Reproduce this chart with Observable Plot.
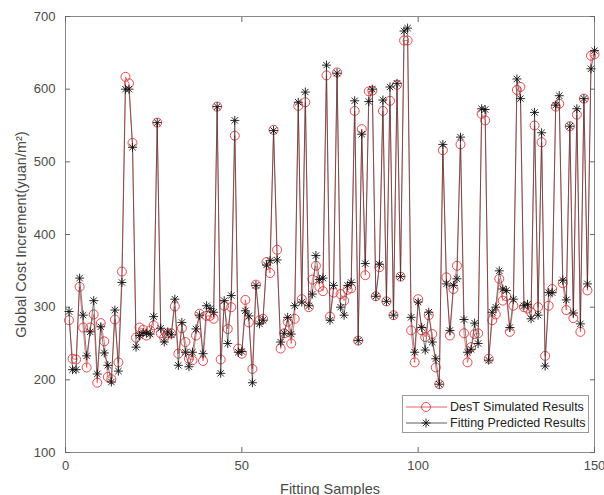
<!DOCTYPE html>
<html><head><meta charset="utf-8">
<script src="https://cdn.jsdelivr.net/npm/d3@7"></script>
<script src="https://cdn.jsdelivr.net/npm/@observablehq/plot@0.6"></script>
<style>
body{margin:0;background:#fff;}
#wrap{position:relative;width:604px;height:495px;font-family:"Liberation Sans",Arial,sans-serif;}
#legend{position:absolute;left:402px;top:395px;}
g[aria-label="x-axis label"] text, g[aria-label="y-axis label"] text{font-size:14.5px;}
</style></head><body><div id="wrap"></div>
<script>
const seriesNames = ["DesT Simulated Results", "Fitting Predicted Results"];
const desT = [282,229,228,328,272,217,272,290,196,278,253,204,201,283,224,349,617,608,526,258,
272,269,261,268,275,554,264,258,264,264,301,236,271,252,229,227,261,291,226,288,
288,284,576,228,302,270,300,536,243,236,310,279,215,331,282,284,362,347,544,379,
243,264,280,250,284,577,311,582,300,338,357,328,322,619,287,320,623,318,309,324,
326,570,254,545,344,597,598,315,355,570,308,584,289,606,342,667,667,268,224,311,
268,259,289,263,217,194,516,341,261,325,357,524,264,224,245,263,264,566,557,229,
282,290,339,309,315,266,302,599,603,300,298,293,550,300,527,233,302,325,576,580,
333,296,549,285,565,266,587,323,646,648];
const fitted = [294,214,214,340,289,233,266,309,208,273,237,220,197,296,212,334,600,600,520,245,
261,265,264,263,287,554,271,252,266,262,311,220,279,238,218,238,270,289,236,302,
298,293,576,209,309,250,316,557,238,239,295,288,196,330,277,282,358,364,543,365,
252,264,286,263,302,582,307,596,302,318,371,338,340,633,282,330,622,300,289,330,
334,584,254,538,360,583,600,315,359,585,308,603,289,608,342,680,684,286,238,307,
272,241,293,252,229,194,524,332,268,330,339,534,283,238,242,278,250,573,572,227,
293,300,350,325,323,272,311,614,587,302,304,284,568,289,540,219,320,320,578,591,
337,310,549,292,573,277,587,332,628,653];
const xTicks = [0, 50, 100, 150];
const yTicks = [100, 200, 300, 400, 500, 600, 700];

const rows = desT.map((v, i) => ({sample: i + 1, desT: v, fit: fitted[i]}));

const star = {draw(ctx, size) {
  const r = Math.sqrt(size / Math.PI), d = r * Math.SQRT1_2;
  ctx.moveTo(-r, 0); ctx.lineTo(r, 0);
  ctx.moveTo(0, -r); ctx.lineTo(0, r);
  ctx.moveTo(-d, -d); ctx.lineTo(d, d);
  ctx.moveTo(-d, d); ctx.lineTo(d, -d);
}};

const RED = "#e0393b", BLK = "#111";

const chart = Plot.plot({
  width: 604, height: 495,
  marginLeft: 65, marginRight: 10, marginTop: 16, marginBottom: 43,
  style: {fontFamily: '"Liberation Sans", Arial, sans-serif', fontSize: "13px", color: "#4a4a4a", background: "#fff"},
  x: {domain: [0, 150]},
  y: {domain: [100, 700]},
  marks: [
    Plot.frame({stroke: "#8a8a8a"}),
    Plot.axisX({anchor: "bottom", ticks: xTicks, tickSize: -5, tickPadding: 13, stroke: "#666",
      label: "Fitting Samples", labelAnchor: "center", labelArrow: "none", labelOffset: 41}),
    Plot.axisX({anchor: "top", ticks: xTicks, tickSize: -5, stroke: "#666", tickFormat: () => "", label: null}),
    Plot.axisY({anchor: "left", ticks: yTicks, tickSize: -5, tickPadding: 15, stroke: "#666",
      label: "Global Cost Increment(yuan/m²)", labelAnchor: "center", labelArrow: "none", labelOffset: 50}),
    Plot.axisY({anchor: "right", ticks: yTicks, tickSize: -5, stroke: "#666", tickFormat: () => "", label: null}),
    Plot.lineY(rows, {x: "sample", y: "desT", stroke: RED, strokeWidth: 0.8, strokeOpacity: 0.85}),
    Plot.dot(rows, {x: "sample", y: "desT", r: 4.5, stroke: RED, strokeWidth: 0.9, fill: "none"}),
    Plot.lineY(rows, {x: "sample", y: "fit", stroke: "#333", strokeWidth: 0.75, strokeOpacity: 0.85}),
    Plot.dot(rows, {x: "sample", y: "fit", r: 4.5, symbol: star, stroke: BLK, strokeWidth: 0.9})
  ]
});
document.getElementById("wrap").appendChild(chart);

// legend
const lg = d3.select("#wrap").append("svg").attr("id", "legend")
  .attr("width", 188).attr("height", 39);
lg.append("rect").attr("x", 0.5).attr("y", 0.5).attr("width", 186).attr("height", 37)
  .attr("fill", "#fff").attr("stroke", "#999");
const items = [{name: seriesNames[0], color: RED, sym: d3.symbolCircle}, {name: seriesNames[1], color: BLK, sym: star}];
items.forEach((it, k) => {
  const y = 12 + k * 16;
  lg.append("line").attr("x1", 4).attr("x2", 45).attr("y1", y).attr("y2", y).attr("stroke", k ? "#333" : RED).attr("stroke-width", 0.8);
  lg.append("path").attr("transform", `translate(24,${y})`).attr("d", d3.symbol(it.sym, Math.PI * 4.5 * 4.5)())
    .attr("fill", "none").attr("stroke", it.color).attr("stroke-width", 0.9);
  lg.append("text").attr("x", 48).attr("y", y).attr("dy", "0.35em").attr("font-size", "12.5px")
    .attr("font-family", '"Liberation Sans", Arial, sans-serif').attr("fill", "#222").text(it.name);
});
</script></body></html>
